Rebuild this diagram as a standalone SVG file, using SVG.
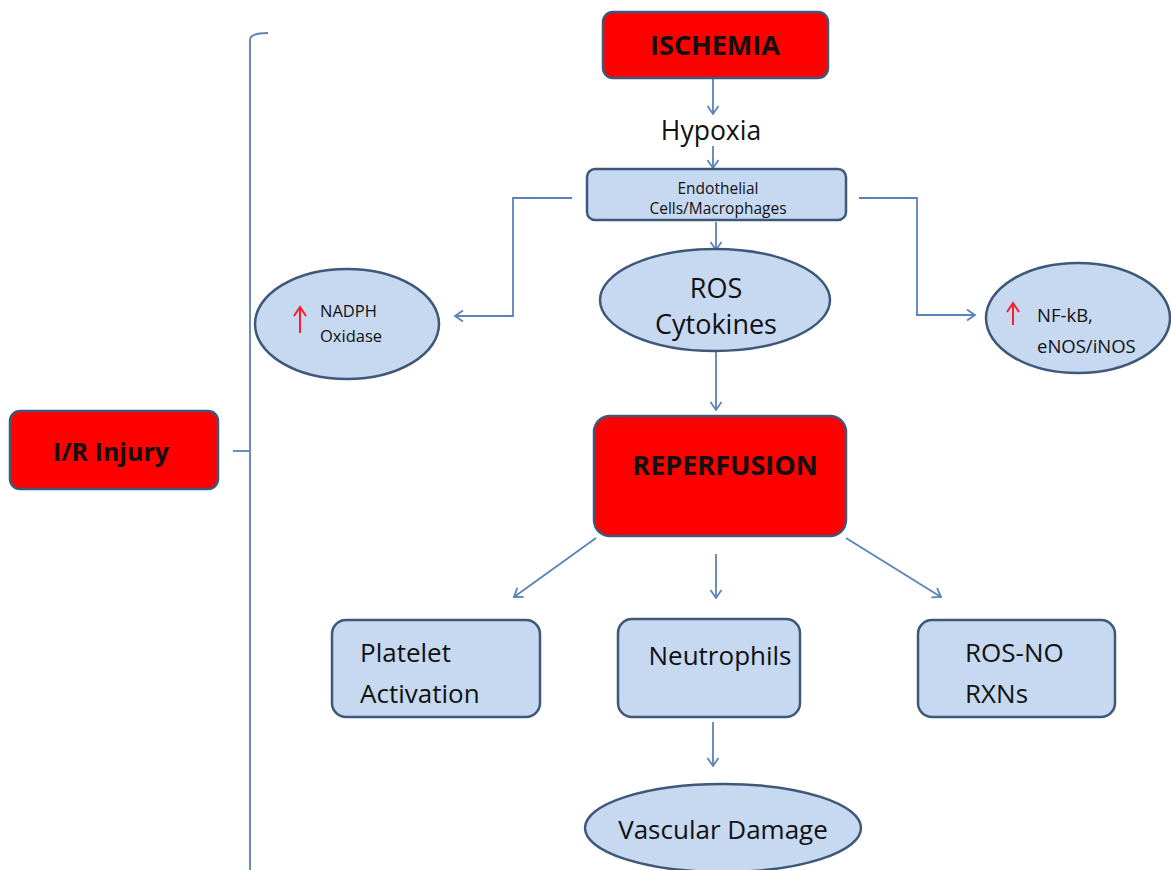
<svg xmlns="http://www.w3.org/2000/svg" width="1171" height="870" viewBox="0 0 1171 870">
<style>
text{font-family:"Open Sans","Liberation Sans",sans-serif;fill:#111}
.red{fill:#FF0000;stroke:#3F5779;stroke-width:2.5}
.blue{fill:#C6D9F1;stroke:#3F5779;stroke-width:2.5}
.b{font-weight:bold}
.con{fill:none;stroke:#5B82BA;stroke-width:1.8}
.up{fill:none;stroke:#FF1A2E;stroke-width:2}
</style>
<defs>
<marker id="ah" markerUnits="userSpaceOnUse" markerWidth="16" markerHeight="16" refX="10" refY="6" orient="auto">
<path d="M2,0.5 L10,6 L2,11.5" fill="none" stroke="#5B82BA" stroke-width="1.8"/>
</marker>
</defs>
<rect width="1171" height="870" fill="#fff"/>
<g id="connectors">
<path class="con" d="M268,33 Q250,33 250,40 L250,870"/>
<path class="con" d="M233,451 L250,451"/>
<path class="con" d="M713,78 L713,114" marker-end="url(#ah)"/>
<path class="con" d="M713,146 L713,168" marker-end="url(#ah)"/>
<path class="con" d="M716,222 L716,250" marker-end="url(#ah)"/>
<path class="con" d="M716,352 L716,410" marker-end="url(#ah)"/>
<path class="con" d="M572,198 L513,198 L513,316 L455,316" marker-end="url(#ah)"/>
<path class="con" d="M859,198 L917,198 L917,315 L975,315" marker-end="url(#ah)"/>
<path class="con" d="M596,538 L514,597" marker-end="url(#ah)"/>
<path class="con" d="M716,554 L716,598" marker-end="url(#ah)"/>
<path class="con" d="M846,538 L941,597" marker-end="url(#ah)"/>
<path class="con" d="M713,722 L713,766" marker-end="url(#ah)"/>
</g>
<g id="ir-injury">
<rect class="red" x="10" y="411" width="208" height="78" rx="10"/>
<text class="b" x="111" y="461" font-size="25" text-anchor="middle">I/R Injury</text>
</g>
<g id="ischemia">
<rect class="red" x="603" y="12" width="225" height="66" rx="10"/>
<text class="b" x="715" y="55" font-size="27" text-anchor="middle">ISCHEMIA</text>
</g>
<g id="hypoxia">
<text x="711" y="140" font-size="26.5" text-anchor="middle">Hypoxia</text>
</g>
<g id="endothelial">
<rect class="blue" x="587" y="169" width="259" height="51" rx="8"/>
<text x="718" y="194" font-size="15.5" text-anchor="middle">Endothelial</text>
<text x="718" y="214" font-size="15.5" text-anchor="middle">Cells/Macrophages</text>
</g>
<g id="ros-cytokines">
<ellipse class="blue" cx="715" cy="300" rx="115" ry="51"/>
<text x="716" y="298" font-size="27" text-anchor="middle">ROS</text>
<text x="716" y="334" font-size="27" text-anchor="middle">Cytokines</text>
</g>
<g id="nadph">
<ellipse class="blue" cx="347" cy="324" rx="92" ry="55"/>
<path class="up" d="M300,333 L300,308 M294,316 L300,307 L306,316"/>
<text x="320" y="317" font-size="16.5">NADPH</text>
<text x="320" y="342" font-size="16.5">Oxidase</text>
</g>
<g id="nfkb">
<ellipse class="blue" cx="1078" cy="318" rx="92" ry="55"/>
<path class="up" d="M1013,325 L1013,304 M1007,312 L1013,303 L1019,312"/>
<text x="1037" y="322" font-size="18.5">NF-kB,</text>
<text x="1037" y="353" font-size="18.5">eNOS/iNOS</text>
</g>
<g id="reperfusion">
<rect class="red" x="594" y="416" width="252" height="120" rx="16"/>
<text class="b" x="725" y="475" font-size="27" text-anchor="middle">REPERFUSION</text>
</g>
<g id="platelet">
<rect class="blue" x="332" y="620" width="208" height="97" rx="14"/>
<text x="360" y="662" font-size="26">Platelet</text>
<text x="360" y="703" font-size="26">Activation</text>
</g>
<g id="neutrophils">
<rect class="blue" x="618" y="619" width="182" height="98" rx="14"/>
<text x="720" y="665" font-size="26" text-anchor="middle">Neutrophils</text>
</g>
<g id="ros-no">
<rect class="blue" x="918" y="620" width="197" height="97" rx="14"/>
<text x="965" y="662" font-size="26">ROS-NO</text>
<text x="965" y="703" font-size="26">RXNs</text>
</g>
<g id="vascular-damage">
<ellipse class="blue" cx="723" cy="828" rx="138" ry="44"/>
<text x="723" y="839" font-size="26" text-anchor="middle">Vascular Damage</text>
</g>
</svg>
